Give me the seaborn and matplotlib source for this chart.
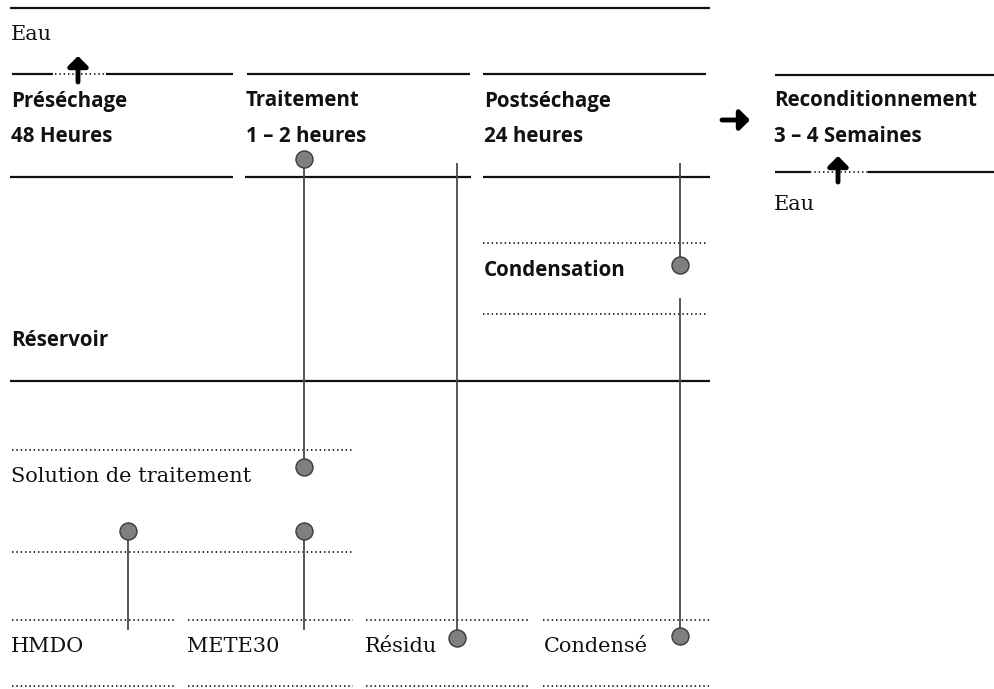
import matplotlib.pyplot as plt
import seaborn as sns
import pandas as pd

# diagram in pixel coordinates (x right, y down)
solid_y = [8, 74, 74, 74, 75, 177, 177, 177, 381, 172, 172]
solid_x0 = [10, 12, 106, 247, 775, 10, 245, 483, 10, 775, 868]
solid_x1 = [710, 53, 233, 470, 994, 233, 471, 710, 710, 810, 994]
top3_x0, top3_x1, top3_y = 483, 706, 74

dot_y = [74, 172, 243, 314, 450, 552, 620, 620, 620, 620, 686, 686, 686, 686]
dot_x0 = [55, 810, 483, 483, 12, 12, 12, 188, 366, 543, 12, 188, 366, 543]
dot_x1 = [105, 868, 706, 706, 353, 353, 175, 353, 528, 710, 175, 353, 528, 710]

bold_labels = ['Préséchage', '48 Heures', 'Traitement', '1 – 2 heures',
               'Postséchage', '24 heures', 'Reconditionnement', '3 – 4 Semaines',
               'Condensation', 'Réservoir']
bold_x = [11, 11, 246, 246, 484, 484, 774, 774, 484, 11]
bold_y = [101, 136, 101, 136, 101, 136, 101, 136, 271, 340]

serif_labels = ['Eau', 'Eau', 'Solution de traitement', 'HMDO', 'METE30',
                'Résidu', 'Condensé']
serif_x = [11, 774, 11, 11, 187, 365, 544]
serif_y = [34, 204, 477, 647, 647, 647, 647]

# pins: stem from y0 to y1 at x, ball at ball_y
stem_x = [304, 128, 304, 457, 680, 680]
stem_y0 = [159, 531, 531, 163, 163, 298]
stem_y1 = [467, 630, 630, 638, 265, 636]
ball_x = [304, 304, 128, 304, 457, 680, 680]
ball_y = [159, 467, 531, 531, 638, 265, 636]

# arrows (tail -> head)
arrow_tail = [(78, 82), (838, 182), (722, 120)]
arrow_head = [(78, 56), (838, 156), (750, 120)]

sns.set_theme(style='white')
fig, ax = plt.subplots(figsize=(9.94, 6.89), dpi=100)
fig.subplots_adjust(0, 0, 1, 1)

ax.hlines(solid_y, solid_x0, solid_x1, color='#111111', lw=1.6)
ax.hlines(top3_y, top3_x0, top3_x1, color='#111111', lw=1.6)
ax.hlines(dot_y, dot_x0, dot_x1, color='#222222', lw=1.3, linestyles=(0, (0.8, 1.6)))
ax.vlines(stem_x, stem_y0, stem_y1, color='#4a4a4a', lw=1.3)

balls = pd.DataFrame({'x': ball_x, 'y': ball_y})
sns.scatterplot(data=balls, x='x', y='y', ax=ax, s=150, color='#7f7f7f',
                edgecolor='#3a3a3a', linewidth=1.0, zorder=5)

for t, h in zip(arrow_tail, arrow_head):
    ax.annotate('', xy=h, xytext=t,
                arrowprops=dict(arrowstyle='-|>,head_length=0.5,head_width=0.5',
                                lw=3.5, color='black', shrinkA=0, shrinkB=0))

for lab, x, y in zip(bold_labels, bold_x, bold_y):
    ax.text(x, y, lab, fontsize=14.8, fontweight='bold', family='Open Sans',
            va='center', ha='left', color='#111111')
for lab, x, y in zip(serif_labels, serif_x, serif_y):
    ax.text(x, y, lab, fontsize=15, family='DejaVu Serif',
            va='center', ha='left', color='#111111')

ax.set_xlim(0, 994)
ax.set_ylim(689, 0)
ax.axis('off')
fig.savefig('out.png', dpi=100)
